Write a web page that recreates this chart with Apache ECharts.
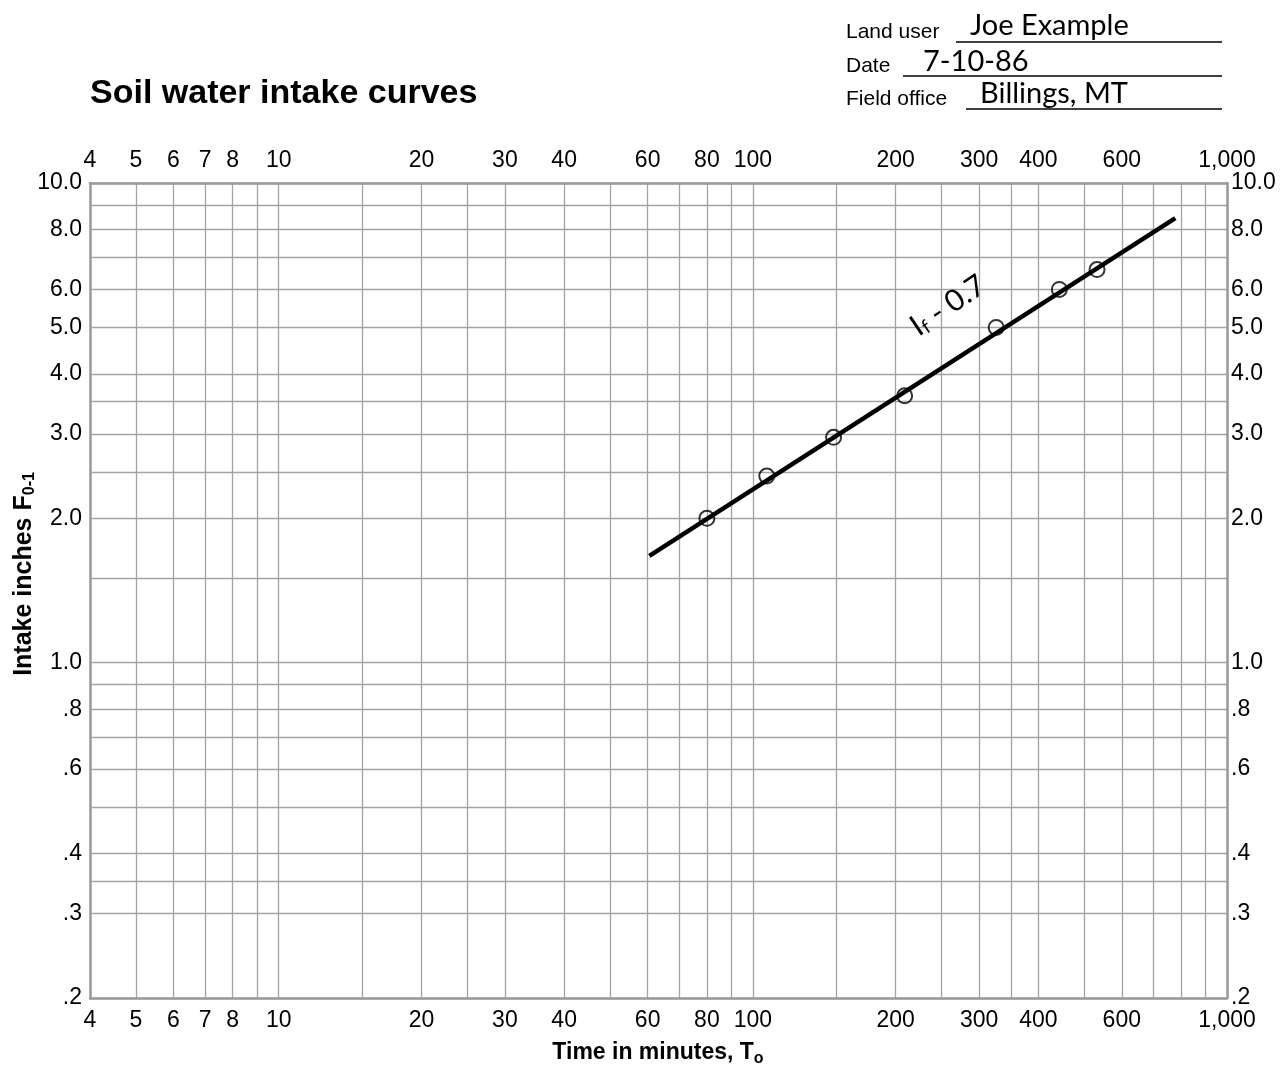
<!DOCTYPE html>
<html><head><meta charset="utf-8">
<script src="https://cdn.jsdelivr.net/npm/echarts@6/dist/echarts.min.js"></script>
<style>html,body{margin:0;padding:0;background:#fff}#chart{width:1288px;height:1068px}</style>
</head><body><div id="chart"></div>
<script>
// ---- data ----
const xGridValues = [4,5,6,7,8,9,10,15,20,25,30,40,50,60,70,80,90,100,150,200,250,300,350,400,500,600,700,800,900,1000];
const xTickLabels = [4,5,6,7,8,10,20,30,40,60,80,100,200,300,400,600,1000];
const yGridValues = [0.2,0.3,0.35,0.4,0.5,0.6,0.7,0.8,0.9,1.0,1.5,2.0,2.5,3.0,3.5,4.0,5,6,7,8,9,10];
const yTickLabels = [0.2,0.3,0.4,0.6,0.8,1,2,3,4,5,6,8,10];
const testTimes = [80,107,148,209,326,443,532];
const testIntake = [2.0,2.45,2.95,3.6,5.0,6.0,6.6];
const fitTimes = [60.5,778];
const fitIntake = [1.67,8.45];
const annotationAt = [258,5.55];

const FAM = '"Liberation Sans", Arial, sans-serif';
const HAND = 'Lato, "Open Sans", sans-serif';
const fmtX = v => { const r = Math.round(v); return r >= 1000 ? r.toLocaleString('en-US') : String(r); };
const fmtY = v => { const r = Math.round(v * 100) / 100; return r >= 1 ? r.toFixed(1) : r.toFixed(1).replace(/^0/, ''); };

const gridColor = '#a3a3a3';
const lblStyle = { fontSize: 23, color: '#000', fontFamily: FAM };

function xAx(pos, main) {
  return {
    type: 'log', logBase: 10, min: 4, max: 1000, position: pos,
    axisLine: { show: true, onZero: false, lineStyle: { color: '#9a9a9a', width: 2.5 } },
    axisTick: { show: false, customValues: xGridValues },
    splitLine: { show: main, lineStyle: { color: gridColor, width: 1.3 } },
    minorSplitLine: { show: false },
    axisLabel: Object.assign({ customValues: xTickLabels, formatter: fmtX, margin: 11 }, lblStyle)
  };
}
function yAx(pos, main) {
  return {
    type: 'log', logBase: 10, min: 0.2, max: 10, position: pos,
    axisLine: { show: true, onZero: false, lineStyle: { color: '#9a9a9a', width: 2.5 } },
    axisTick: { show: false, customValues: yGridValues },
    splitLine: { show: main, lineStyle: { color: gridColor, width: 1.3 } },
    axisLabel: Object.assign({ customValues: yTickLabels, formatter: fmtY, margin: pos === 'left' ? 8 : 4 }, lblStyle)
  };
}

function txt(x, y, text, font) {
  return { type: 'text', style: { x: x, y: y, text: text, font: font, fill: '#000', align: 'left', verticalAlign: 'middle', textAlign: 'left', textVerticalAlign: 'middle' } };
}
function uline(x1, x2, y) {
  return { type: 'line', shape: { x1: x1, y1: y, x2: x2, y2: y }, style: { stroke: '#000', lineWidth: 1.3 } };
}

const chart = echarts.init(document.getElementById('chart'), null, { renderer: 'canvas' });
chart.setOption({
  backgroundColor: '#fff',
  animation: false,
  grid: { left: 90, right: 61, top: 183, bottom: 70, containLabel: false },
  xAxis: [xAx('bottom', true), xAx('top', false)],
  yAxis: [yAx('left', true), yAx('right', false)],
  series: [
    {
      type: 'line', xAxisIndex: 0, yAxisIndex: 0,
      data: fitTimes.map((t, i) => [t, fitIntake[i]]),
      showSymbol: false, lineStyle: { color: '#000', width: 4.5 }, z: 3,
      markPoint: {
        symbol: 'circle', symbolSize: 0,
        data: [{ coord: annotationAt }],
        label: {
          show: true, position: 'inside', rotate: 34,
          formatter: '{a|I}{s|f}{a| - 0.7}',
          rich: {
            a: { fontSize: 30, fontFamily: HAND, color: '#000' },
            s: { fontSize: 19, fontFamily: HAND, color: '#000', padding: [11, 0, 0, 0] }
          }
        }
      }
    },
    {
      type: 'scatter', xAxisIndex: 0, yAxisIndex: 0,
      data: testTimes.map((t, i) => [t, testIntake[i]]),
      symbol: 'circle', symbolSize: 15,
      itemStyle: { color: 'rgba(0,0,0,0)', borderColor: '#000', borderWidth: 2 }, z: 4
    }
  ],
  graphic: [
    txt(90, 94, 'Soil water intake curves', 'bold 34px ' + FAM),
    txt(846, 32, 'Land user', '21px ' + FAM),
    txt(846, 66, 'Date', '21px ' + FAM),
    txt(846, 99, 'Field office', '21px ' + FAM),
    txt(970, 26, 'Joe Example', '29px ' + HAND),
    txt(923, 62, '7-10-86', '29px ' + HAND),
    txt(980, 94, 'Billings, MT', '29px ' + HAND),
    uline(956, 1222, 42),
    uline(903, 1222, 76),
    uline(966, 1222, 109),
    { type: 'text', style: { x: 658, y: 1053, text: '{a|Time in minutes, T}{s|o}', rich: { a: { font: 'bold 23px ' + FAM, fill: '#000' }, s: { font: 'bold 16px ' + FAM, fill: '#000', padding: [11, 0, 0, 0] } }, align: 'center', verticalAlign: 'middle', textAlign: 'center', textVerticalAlign: 'middle' } },
    { type: 'text', x: 24, y: 574, rotation: Math.PI / 2, style: { x: 0, y: 0, text: '{a|Intake inches F}{s|0-1}', rich: { a: { font: 'bold 25px ' + FAM, fill: '#000' }, s: { font: 'bold 16px ' + FAM, fill: '#000', padding: [12, 0, 0, 0] } }, align: 'center', verticalAlign: 'middle', textAlign: 'center', textVerticalAlign: 'middle' } }
  ]
});
</script></body></html>
